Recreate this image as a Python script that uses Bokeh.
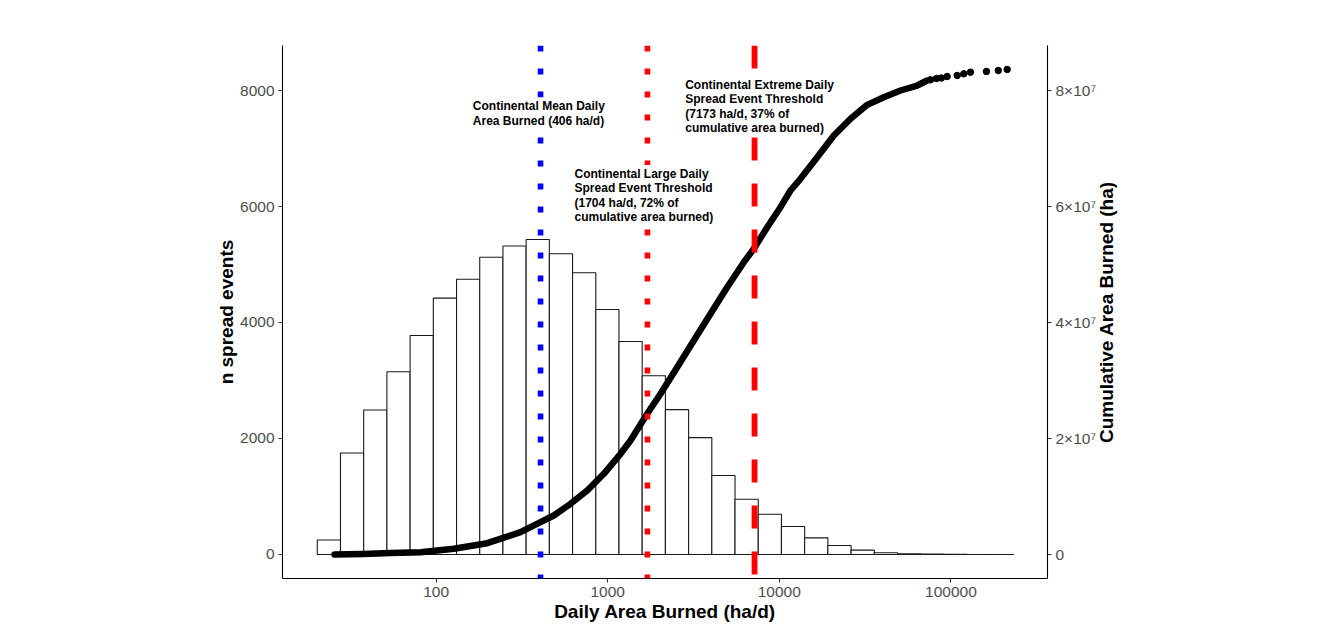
import numpy as np
from bokeh.plotting import figure
from bokeh.models import Range1d, LinearAxis, FixedTicker, Span, Label, CustomJSTickFormatter
from bokeh.embed import file_html
from bokeh.resources import INLINE

# ---------------- data ----------------
hist_counts = [250, 1750, 2490, 3150, 3776, 4420, 4745, 5125, 5320, 5430,
               5185, 4858, 4224, 3672, 3083, 2497, 2015, 1362, 952, 695,
               483, 287, 155, 75, 29, 12, 6, 3, 1, 1]
hist_lo = 20.3        # lower edge of first bin (ha/d)
hist_hi = 231700      # upper edge of last bin (ha/d)

cum_x = [25.6, 37.8, 54.2, 81.1, 126.8, 198.6, 310.3, 405.9, 485.1, 607.1,
         759.6, 949.1, 1188, 1358, 1699, 2032, 2541, 3176, 3973, 4970, 6213,
         7102, 8502, 10160, 11620, 13290, 16630, 20780, 26000, 32530, 40640,
         50850, 63620, 72760]
cum_y = [0, 8.6e4, 2.6e5, 4.0e5, 9.8e5, 1.95e6, 3.85e6, 5.57e6, 6.72e6, 8.74e6,
         1.103e7, 1.391e7, 1.736e7, 1.966e7, 2.426e7, 2.771e7, 3.229e7, 3.69e7,
         4.15e7, 4.609e7, 5.04e7, 5.271e7, 5.643e7, 5.988e7, 6.276e7, 6.478e7,
         6.85e7, 7.224e7, 7.512e7, 7.753e7, 7.884e7, 8.0e7, 8.086e7, 8.172e7]
tail_x = [76000, 82400, 88100, 95100, 108800, 118900, 130000, 161100, 188800, 212800]
tail_y = [8.184e7, 8.207e7, 8.216e7, 8.241e7, 8.259e7, 8.288e7, 8.316e7, 8.328e7, 8.345e7, 8.362e7]

mean_daily = 406
large_threshold = 1704
extreme_threshold = 7173

x_ticks = [100, 1000, 10000, 100000]
y_ticks = [0, 2000, 4000, 6000, 8000]
y2_ticks = [0, 2e7, 4e7, 6e7, 8e7]

label_mean = ["Continental Mean Daily", "Area Burned (406 ha/d)"]
label_large = ["Continental Large Daily", "Spread Event Threshold",
               "(1704 ha/d, 72% of", "cumulative area burned)"]
label_extreme = ["Continental Extreme Daily", "Spread Event Threshold",
                 "(7173 ha/d, 37% of", "cumulative area burned)"]
right_title = "Cumulative Area Burned (ha)"

# ---------------- figure ----------------
FONT = "Liberation Sans"
p = figure(width=1318, height=642, x_axis_type="log",
           x_range=Range1d(12.73, 365500), y_range=Range1d(-414, 8776),
           output_backend="svg", toolbar_location=None,
           min_border_left=282, min_border_right=271,
           min_border_top=45, min_border_bottom=64)
p.extra_y_ranges = {"cum": Range1d(-4.14e6, 8.776e7)}
p.grid.visible = False
p.outline_line_color = None
p.background_fill_color = "white"
p.border_fill_color = "white"

edges = np.logspace(np.log10(hist_lo), np.log10(hist_hi), len(hist_counts) + 1)
p.quad(left=edges[:-1], right=edges[1:], bottom=0, top=hist_counts,
       fill_color="white", line_color="#1a1a1a", line_width=1.1)

# cumulative curve
p.line(cum_x, cum_y, y_range_name="cum", line_color="black", line_width=6.5,
       line_cap="round", line_join="round")
p.scatter(tail_x, tail_y, y_range_name="cum", size=6.5, fill_color="black",
          line_color="black", marker="circle")

# threshold lines
p.add_layout(Span(location=mean_daily, dimension="height", line_color="#0000FF",
                  line_width=5.6, line_dash="6 17"))
p.add_layout(Span(location=large_threshold, dimension="height", line_color="#FF0000",
                  line_width=5.6, line_dash="6 17"))
p.add_layout(Span(location=extreme_threshold, dimension="height", line_color="#FF0000",
                  line_width=5.8, line_dash="23 23"))

# annotations: one white-backed box per text line, added bottom line first so
# that no box clips the descenders of the line above it
LINE_STEP = 245   # one text line in y data units
label_sets = [(label_mean, 159.3, 7880), (label_large, 623.7, 6714),
              (label_extreme, 2754, 8247)]
for lines, x, y_top in label_sets:
    for i in reversed(range(len(lines))):
        p.add_layout(Label(x=x, y=y_top - i * LINE_STEP, text=lines[i],
                           text_font=FONT, text_font_style="bold",
                           text_font_size="12px", text_color="black",
                           text_align="left", text_baseline="top", padding=2,
                           background_fill_color="white"))

# axes
right = LinearAxis(y_range_name="cum")
p.add_layout(right, "right")

p.xaxis.ticker = FixedTicker(ticks=x_ticks)
p.xaxis.formatter = CustomJSTickFormatter(code="return Math.round(tick).toString();")
p.yaxis[0].ticker = FixedTicker(ticks=y_ticks)
right.ticker = FixedTicker(ticks=y2_ticks)
right.formatter = CustomJSTickFormatter(
    code="if (Math.abs(tick) < 1) { return '0'; } return Math.round(tick/1e7).toString() + '\u00d710\u2077';")

p.xaxis.axis_label = "Daily Area Burned (ha/d)"
p.yaxis[0].axis_label = "n spread events"

for ax in [p.xaxis[0], p.yaxis[0], right]:
    ax.axis_line_color = "black"
    ax.axis_line_width = 1.1
    ax.major_tick_line_color = "#333333"
    ax.major_tick_line_width = 1.1
    ax.major_tick_out = 4
    ax.major_tick_in = 0
    ax.minor_tick_line_color = None
    ax.major_label_text_color = "#4D4D4D"
    ax.major_label_text_font = FONT
    ax.major_label_text_font_size = "15.5px"
    ax.major_label_standoff = 4
    ax.axis_label_text_font = FONT
    ax.axis_label_text_font_style = "bold"
    ax.axis_label_text_font_size = "19px"
    ax.axis_label_text_color = "black"
p.xaxis.axis_label_standoff = 1
p.yaxis[0].axis_label_standoff = 0

# right-hand title, reading bottom-to-top; drawn as the single label of a bare axis,
# anchored where the text starts (its lower end)
title_axis = LinearAxis(ticker=FixedTicker(ticks=[1922]),
                        formatter=CustomJSTickFormatter(args=dict(t=right_title), code="return t;"))
title_axis.axis_line_color = None
title_axis.major_tick_line_color = None
title_axis.major_tick_out = 0
title_axis.major_tick_in = 0
title_axis.minor_tick_line_color = None
title_axis.major_label_orientation = np.pi / 2
title_axis.major_label_standoff = 7
title_axis.major_label_text_font = FONT
title_axis.major_label_text_font_style = "bold"
title_axis.major_label_text_font_size = "19px"
title_axis.major_label_text_color = "black"
p.add_layout(title_axis, "right")

open("out.html", "w").write(file_html(p, INLINE))
